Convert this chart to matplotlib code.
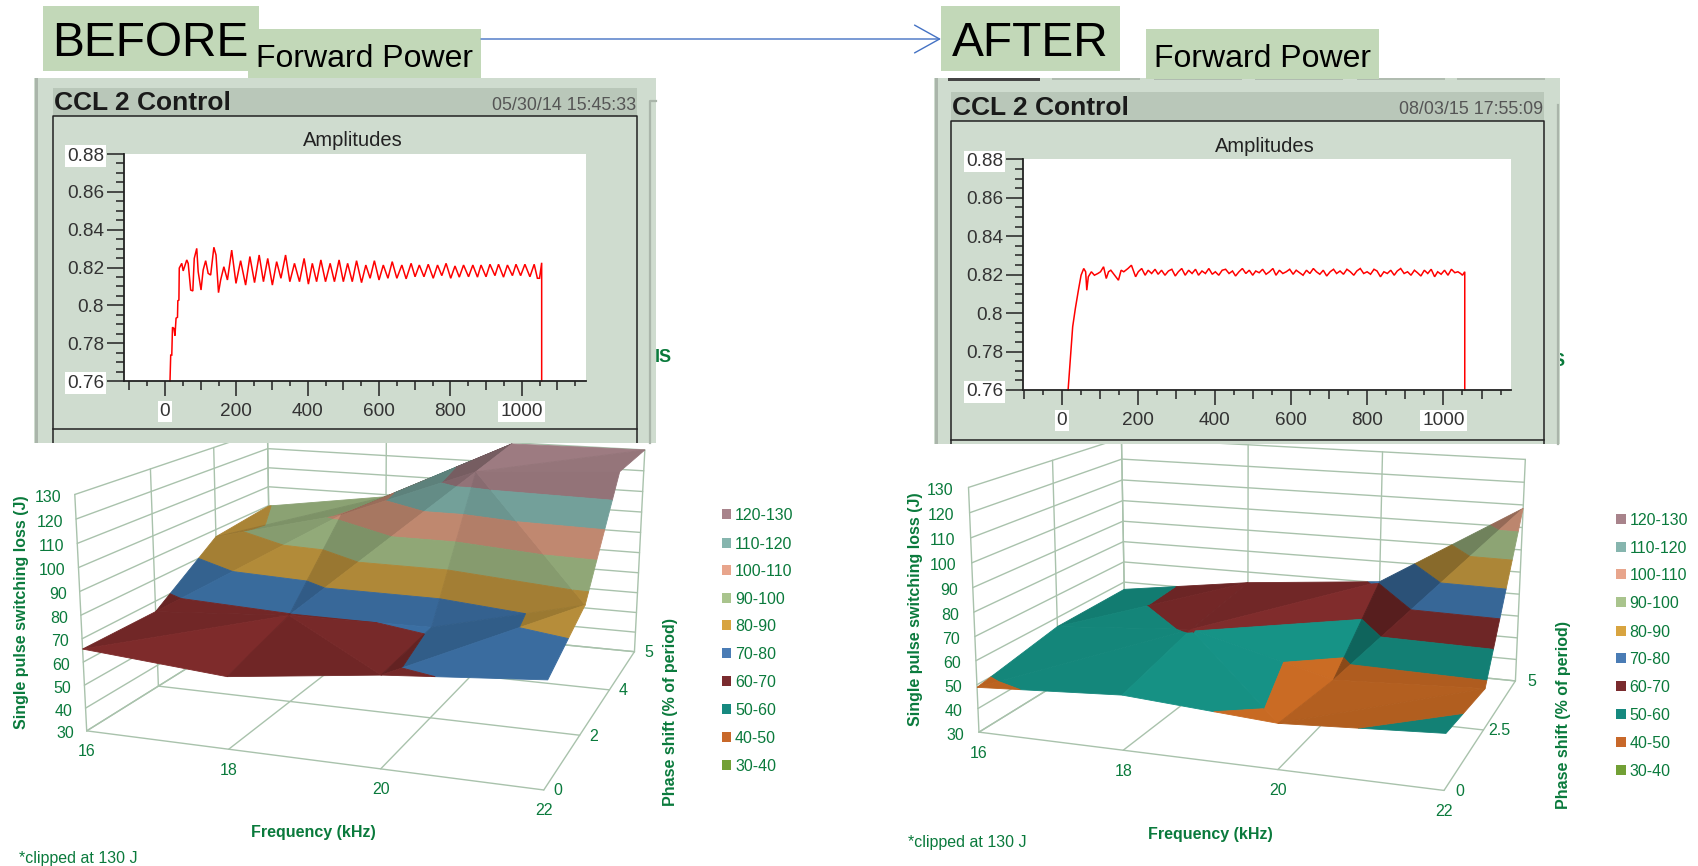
import numpy as np
import matplotlib
matplotlib.use('Agg')
import matplotlib.pyplot as plt
from matplotlib.patches import Rectangle, Polygon

plt.rcParams['font.family'] = ['Liberation Sans', 'DejaVu Sans']

# ---------- data ----------
freq_labels = ['16', '18', '20', '22']
phase_before = ['0', '2', '4', '5']
phase_after = ['0', '2.5', '5']
z_ticks = [30, 40, 50, 60, 70, 80, 90, 100, 110, 120, 130]
band_labels = ['120-130', '110-120', '100-110', '90-100', '80-90', '70-80', '60-70', '50-60', '40-50', '30-40']
legend_colors = ['#a8838b', '#86b5ae', '#e8a58c', '#a9c48d', '#d8a440', '#4a7cb5', '#7a2b2e', '#16897f', '#c8682a', '#72a035']
surface_colors = ['#a8848a', '#84b8b0', '#dc9c80', '#a5c088', '#c99c40', '#4078b0', '#802c2c', '#169487', '#cc6c24', '#72a035']

z_before = [[65.6, 60.7, 68.3, 73.4], [65.2, 69.5, 70.3, 85.9], [86.5, 101.7, 126.1, 130], [89.8, 99, 129.4, 130]]
z_after = [[48.9, 52.5, 48.3, 51.8], [55.9, 60.5, 44.5, 47.5], [56.4, 64.9, 70.5, 108.5]]

amp_ticks = [0.76, 0.78, 0.80, 0.82, 0.84, 0.86, 0.88]
amp_labels = ['0.76', '0.78', '0.8', '0.82', '0.84', '0.86', '0.88']
time_ticks = [0, 200, 400, 600, 800, 1000]

t_before = [14, 16, 19, 21, 25, 28, 31, 35, 36, 39, 40, 47, 51, 61, 65, 72, 78, 82, 89, 93, 101, 107, 114, 121, 128,
            137, 143, 150, 156, 165, 175, 187, 199, 212, 226, 238, 251, 264, 276, 288, 301, 313, 325, 338, 350, 363,
            377, 390, 402, 413, 425, 437, 450, 463, 475, 488, 500, 512, 525, 537, 551, 563, 575, 587, 600, 612, 625,
            637, 650, 664, 676, 690, 701, 713, 726, 738, 752, 764, 776, 788, 801, 813, 825, 837, 851, 863, 876, 886,
            900, 911, 925, 935, 949, 960, 974, 984, 997, 1009, 1023, 1035, 1044, 1050, 1056, 1056]
a_before = [.76, .7737, .7737, .7884, .7878, .7840, .7932, .7937, .8024, .8028, .8197, .8222, .8182, .8240, .8222,
            .8081, .8076, .8248, .8301, .8178, .8081, .8187, .8236, .8169, .8160, .8307, .8266, .8067, .8134, .8204,
            .8134, .8292, .8116, .8236, .8107, .8258, .8120, .8266, .8125, .8248, .8107, .8231, .8143, .8266, .8125,
            .8222, .8125, .8248, .8112, .8222, .8125, .8240, .8125, .8222, .8125, .8240, .8125, .8222, .8125, .8236,
            .8120, .8213, .8143, .8236, .8134, .8213, .8143, .8231, .8143, .8213, .8140, .8222, .8151, .8213, .8151,
            .8217, .8143, .8213, .8157, .8222, .8143, .8208, .8149, .8213, .8151, .8213, .8149, .8213, .8151, .8217,
            .8157, .8217, .8149, .8213, .8157, .8217, .8157, .8217, .8151, .8217, .8143, .8143, .8225, .76]

t_after = [16, 22, 28, 35, 43, 50, 57, 62, 65, 69, 77, 85, 94, 101, 109, 116, 122, 128, 138, 148, 155, 162, 173, 182, 193,
           200, 209, 218, 226, 235, 244, 252, 261, 270, 279, 288, 297, 305, 314, 323, 332, 341, 350, 358, 367, 376, 385,
           394, 402, 411, 420, 429, 438, 447, 455, 464, 473, 482, 491, 500, 508, 517, 526, 535, 544, 553, 561, 570, 579,
           588, 597, 606, 614, 623, 632, 641, 650, 659, 667, 676, 685, 694, 703, 712, 720, 729, 738, 747, 756, 765, 773,
           782, 791, 800, 809, 818, 826, 835, 844, 853, 862, 871, 879, 888, 897, 906, 915, 924, 932, 941, 950, 959, 968,
           977, 985, 994, 1003, 1012, 1021, 1030, 1038, 1045, 1050, 1056, 1056]
a_after = [.76, .7765, .7929, .8024, .8119, .8197, .8232, .8215, .8119, .8189, .8215, .8197, .8206, .8215, .8241, .8180,
           .8215, .8223, .8197, .8171, .8223, .8215, .8232, .8249, .8189, .8215, .8232, .8197, .8223, .8206, .8228, .8202,
           .8223, .8197, .8219, .8228, .8193, .8215, .8232, .8197, .8223, .8206, .8228, .8197, .8219, .8206, .8232, .8202,
           .8215, .8197, .8223, .8228, .8206, .8219, .8193, .8215, .8232, .8206, .8223, .8197, .8219, .8210, .8228, .8202,
           .8215, .8232, .8197, .8223, .8206, .8215, .8228, .8202, .8223, .8210, .8197, .8223, .8206, .8232, .8215, .8202,
           .8223, .8193, .8215, .8228, .8206, .8219, .8202, .8228, .8215, .8197, .8219, .8232, .8206, .8215, .8202, .8228,
           .8219, .8189, .8215, .8206, .8223, .8197, .8219, .8232, .8206, .8215, .8197, .8223, .8210, .8193, .8223, .8206,
           .8228, .8189, .8215, .8202, .8223, .8197, .8228, .8210, .8215, .8206, .8197, .8215, .76]

# ---------- geometry helpers ----------
W, H = 1698, 866
fig = plt.figure(figsize=(W / 100, H / 100), dpi=100, facecolor='white')
bg = fig.add_axes([0, 0, 1, 1])
bg.set_xlim(0, W)
bg.set_ylim(H, 0)
bg.axis('off')

GREEN = '#0a7a3c'
GRID = '#a9c2ac'
PX = 0.72


def fit_camera(anchors, ox, sx):
    A = []
    for (i, j, z, zx, zy) in anchors:
        u, v = ox + zx / sx, 430 + zy / 3
        X = [i, j, z / 100, 1]
        A.append(X + [0, 0, 0, 0] + [-u * c for c in X])
        A.append([0, 0, 0, 0] + X + [-v * c for c in X])
    _, _, vt = np.linalg.svd(np.array(A, float))
    return vt[-1].reshape(3, 4)


def project(P, i, j, z):
    q = P @ np.array([i, j, z / 100, 1.0])
    return q[0] / q[2], q[1] / q[2]


def clip_band(tri, lo, hi):
    def clip(poly, keep, limit):
        out = []
        for a, b in zip(poly, poly[1:] + poly[:1]):
            ka, kb = keep(a[2]), keep(b[2])
            if ka:
                out.append(a)
            if ka != kb:
                t = (limit - a[2]) / (b[2] - a[2])
                out.append(tuple(a[k] + t * (b[k] - a[k]) for k in range(3)))
        return out
    poly = clip(list(tri), lambda z: z >= lo, lo)
    if poly:
        poly = clip(poly, lambda z: z <= hi, hi)
    return poly


def shade(tri):
    p = np.array(tri, float)
    p[:, 2] /= 25
    n = np.cross(p[1] - p[0], p[2] - p[0])
    if n[2] < 0:
        n = -n
    n = n / np.linalg.norm(n)
    return float(np.clip(0.66 + 0.38 * np.dot(n, [0.6, -0.3, 0.7]), 0.6, 1.03))


def surface(P, Z, diag):
    Z = np.array(Z, float)
    rows = Z.shape[0]
    for j in range(rows - 2, -1, -1):
        for i in range(3):
            a = (i, j, Z[j, i]); b = (i + 1, j, Z[j, i + 1])
            c = (i + 1, j + 1, Z[j + 1, i + 1]); d = (i, j + 1, Z[j + 1, i])
            tris = [(a, c, d), (a, b, c)] if diag[j][i] == 'a' else [(a, b, d), (b, c, d)]
            for tri in tris:
                s = shade(tri)
                for k, col in enumerate(surface_colors):
                    hi = 130 - 10 * k
                    poly = clip_band(tri, hi - 10, hi)
                    if len(poly) < 3:
                        continue
                    rgb = np.clip(np.array(matplotlib.colors.to_rgb(col)) * s, 0, 1)
                    pts = [project(P, *q) for q in poly]
                    bg.add_patch(Polygon(pts, closed=True, fc=rgb, ec=rgb, lw=0.6, zorder=3))


def chart3d(P, Z, diag, phases, f_off, p_off, z_off, titles, legend_x, legend_y):
    nj = len(phases)
    seg = lambda a, b: bg.plot([a[0], b[0]], [a[1], b[1]], color=GRID, lw=1.0, zorder=1, solid_capstyle='round')
    for j in range(nj):
        seg(project(P, 0, j, 30), project(P, 3, j, 30))
        seg(project(P, 0, j, 30), project(P, 0, j, 130))
    for i in range(4):
        seg(project(P, i, 0, 30), project(P, i, nj - 1, 30))
        seg(project(P, i, nj - 1, 30), project(P, i, nj - 1, 130))
    for z in z_ticks:
        seg(project(P, 0, 0, z), project(P, 0, nj - 1, z))
        seg(project(P, 0, nj - 1, z), project(P, 3, nj - 1, z))
        x, y = project(P, 0, 0, z)
        bg.text(x + z_off, y + 3, str(z), ha='right', va='center', color=GREEN, fontsize=11.5, zorder=4)
    for i, lab in enumerate(freq_labels):
        x, y = project(P, i, 0, 30)
        bg.text(x, y + f_off, lab, ha='center', va='center', color=GREEN, fontsize=11.5, zorder=4)
    for j, lab in enumerate(phases):
        x, y = project(P, 3, j, 30)
        bg.text(x + p_off, y + 1, lab, ha='center', va='center', color=GREEN, fontsize=11.5, zorder=4)
    surface(P, Z, diag)
    (zt, pt, ft, ct) = titles
    bg.text(*zt, 'Single pulse switching loss (J)', rotation=90, ha='center', va='center', color=GREEN,
            fontsize=11.5, fontweight='bold', zorder=4)
    bg.text(*pt, 'Phase shift (% of period)', rotation=90, ha='center', va='center', color=GREEN,
            fontsize=11.5, fontweight='bold', zorder=4)
    bg.text(*ft, 'Frequency (kHz)', ha='center', va='center', color=GREEN, fontsize=11.5, fontweight='bold', zorder=4)
    bg.text(*ct, '*clipped at 130 J', ha='left', va='center', color=GREEN, fontsize=11.5, zorder=4)
    for lab, col, y in zip(band_labels, legend_colors, legend_y):
        bg.add_patch(Rectangle((legend_x, y - 5), 9.5, 10, fc=col, ec='none', zorder=4))
        bg.text(legend_x + 13, y + 1.5, lab, ha='left', va='center', color=GREEN, fontsize=11.5, zorder=4)


def panel(px0, px1, py0, py1, fx0, fx1, tb0, tb1, fy1, date, ty, dy, amp_x, amp_y):
    bg.add_patch(Rectangle((px0, py0), px1 - px0, py1 - py0, fc='#cfdccf', ec='none', zorder=10))
    bg.add_patch(Rectangle((px0 + 1, py0), 3, py1 - py0, fc='#aab5aa', ec='none', zorder=11))
    bg.add_patch(Rectangle((fx0, tb0), fx1 - fx0, tb1 - tb0, fc='#b9c7b9', ec='none', zorder=11))
    bg.plot([fx0, fx0, fx1, fx1], [py1, tb1, tb1, py1], color='#222222', lw=1.1, zorder=11, solid_capstyle='butt')
    bg.plot([fx0, fx1], [fy1, fy1], color='#222222', lw=1.1, zorder=11)
    bg.text(fx0 + 1, ty, 'CCL 2 Control', fontweight='bold', fontsize=19, ha='left', va='center', color='#1a1a1a', zorder=12)
    bg.text(fx1 - 1, dy, date, fontsize=12.9, ha='right', va='center', color='#555555', zorder=12)
    bg.text(amp_x, amp_y, 'Amplitudes', fontsize=14.5, ha='center', va='center', color='#222222', zorder=12)


def amp_axes(x0, x1, y0, y1, t0, tscale, t, a):
    ax = fig.add_axes([x0 / W, 1 - y1 / H, (x1 - x0) / W, (y1 - y0) / H], facecolor='white', zorder=5)
    ax.set_xlim((x0 - t0) / tscale, (x1 - t0) / tscale)
    ax.set_ylim(0.76, 0.88)
    ax.plot(t, a, color='#ff0000', lw=1.1, solid_joinstyle='miter', clip_on=False)
    for s in ('top', 'right'):
        ax.spines[s].set_visible(False)
    for s in ('left', 'bottom'):
        ax.spines[s].set_color('#222222')
        ax.spines[s].set_linewidth(1.3)
    ax.set_yticks(amp_ticks, amp_labels)
    ax.set_yticks([0.76 + 0.005 * k for k in range(25) if k % 4], minor=True)
    ax.set_xticks(time_ticks, [str(v) for v in time_ticks])
    ax.set_xticks([-50, 50, 150, 250, 350, 450, 550, 650, 750, 850, 950, 1050, 1150], minor=True)
    ax.tick_params(axis='y', which='major', length=17 * PX, width=1.1, color='#222222', pad=2, labelsize=13.7, labelcolor='#333333')
    ax.tick_params(axis='y', which='minor', length=8 * PX, width=1.1, color='#222222')
    ax.tick_params(axis='x', which='major', length=15 * PX, width=1.1, color='#222222', pad=5, labelsize=13.7, labelcolor='#333333')
    ax.tick_params(axis='x', which='minor', length=5 * PX, width=1.1, color='#222222')
    sec = ax.secondary_xaxis('bottom')
    sec.set_xticks([-100, 100, 300, 500, 700, 900, 1100], [''] * 7)
    sec.tick_params(length=9 * PX, width=1.1, color='#222222')
    sec.spines['bottom'].set_visible(False)
    for lab in ax.get_yticklabels():
        if lab.get_text() in ('0.88', '0.76'):
            lab.set_bbox(dict(fc='white', ec='none', pad=1.5))
    for lab in ax.get_xticklabels():
        if lab.get_text() in ('0', '1000'):
            lab.set_bbox(dict(fc='white', ec='none', pad=1.5))
    return ax


# ---------- cameras ----------
anch_b = [(0, 0, 30, 170, 903), (1, 0, 30, 450, 958), (2, 0, 30, 745, 1020), (3, 0, 30, 1065, 1080),
          (3, 1, 30, 1135, 915), (3, 2, 30, 1195, 780), (3, 3, 30, 1245, 660), (0, 1, 30, 310, 768),
          (0, 0, 130, 147, 192), (0, 1, 130, 295, 118), (0, 2, 130, 420, 45),
          (0, 3, 120, 525, 55), (0, 3, 110, 525, 115), (0, 3, 100, 525, 175),
          (3, 3, 130, 1265, 60), (3, 3, 120, 1262, 125), (1, 3, 120, 757, 77), (2, 3, 120, 1000, 100)]
anch_a = [(0, 0, 30, 157, 905), (1, 0, 30, 440, 958), (2, 0, 30, 742, 1020), (3, 0, 30, 1070, 1085),
          (3, 1, 30, 1145, 895), (3, 2, 30, 1210, 755), (0, 1, 30, 310, 761),
          (0, 0, 130, 133, 172), (0, 1, 130, 300, 92), (0, 2, 120, 437, 88), (0, 2, 60, 440, 455),
          (1, 2, 120, 685, 109), (2, 2, 120, 947, 131), (3, 2, 130, 1228, 90), (3, 2, 120, 1227, 155)]
Pb = fit_camera(anch_b, 0, 1.96)
Pa = fit_camera(anch_a, 900, 1.965)

diag_b = ['aba', 'aab', 'aaa']
diag_a = ['aba', 'aaa']

chart3d(Pb, z_before, diag_b, phase_before, 21, 14, -13,
        ((21.4, 612), (671, 712), (313, 832), (19, 858)), 722, [514, 543, 570, 598, 625, 653, 681, 709, 737, 765])
chart3d(Pa, z_after, diag_a, phase_after, 21, 16, -15,
        ((915.7, 609), (1563.5, 715), (1210, 834), (907.6, 842)), 1616.5, [519, 547, 574, 602, 631, 658, 686, 714, 742, 770])

# hidden text remnants just beyond the panels
bg.text(655, 358, 'IS', fontweight='bold', fontsize=13, color=GREEN, ha='left', va='center', zorder=4)
bg.text(1552, 362, 'S', fontweight='bold', fontsize=13, color=GREEN, ha='left', va='center', zorder=4)

# ---------- panels ----------
panel(34, 656, 78, 443, 53, 637, 88, 116, 429, '05/30/14 15:45:33', 103, 105, 353, 141)
bg.plot([650, 650, 656], [443, 101, 101], color='#aab5aa', lw=1.6, zorder=11)
panel(934, 1560, 78, 444, 951, 1544, 92, 121, 440, '08/03/15 17:55:09', 108, 110, 1265, 146)
bg.plot([1558, 1558], [105, 444], color='#aab5aa', lw=1.6, zorder=11)
bg.add_patch(Rectangle((948, 78), 92, 3, fc='#444444', ec='none', zorder=11))
for xa, xb in [(1052, 1140), (1154, 1242), (1255, 1343), (1357, 1445), (1457, 1545)]:
    bg.add_patch(Rectangle((xa, 78), xb - xa, 2, fc='#b0bcb0', ec='none', zorder=11))

amp_axes(124, 586, 154, 381, 165, 0.3567, t_before, a_before)
amp_axes(1023, 1511, 159.3, 390, 1062, 0.3814, t_after, a_after)

# ---------- headers ----------
BOX = '#c2d8b8'
for (x0, y0, x1, y1) in [(43, 6, 259, 71), (248, 29, 481, 78), (941, 6, 1120, 71), (1146, 29, 1379, 79)]:
    bg.add_patch(Rectangle((x0, y0), x1 - x0, y1 - y0, fc=BOX, ec='none', zorder=13))
bg.text(150.5, 44, 'BEFORE', fontsize=34.5, ha='center', va='center', color='black', zorder=14)
bg.text(1030.5, 44, 'AFTER', fontsize=34.5, ha='center', va='center', color='black', zorder=14)
bg.text(365, 59, 'Forward Power', fontsize=23, ha='center', va='center', color='black', zorder=14)
bg.text(1263, 59, 'Forward Power', fontsize=23, ha='center', va='center', color='black', zorder=14)
bg.annotate('', xy=(941, 39), xytext=(481, 39),
            arrowprops=dict(arrowstyle='->,head_length=0.9,head_width=0.5', mutation_scale=20, color='#4472c4', lw=1.0,
                            shrinkA=0, shrinkB=0), zorder=14)

fig.savefig('out.png', dpi=100)
